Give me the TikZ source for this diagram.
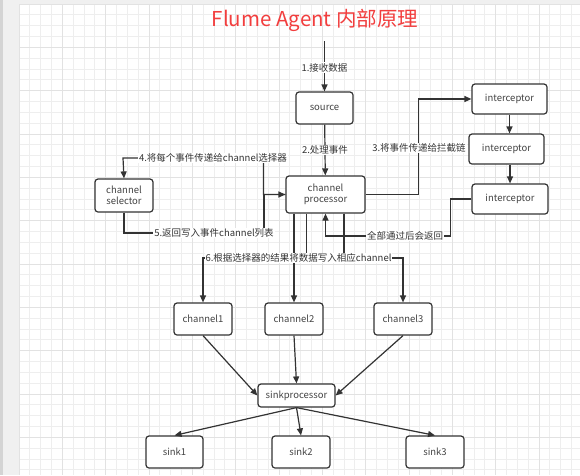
\documentclass[tikz,border=0pt]{standalone}
\usepackage{fontspec}
\setmainfont{Noto Sans CJK SC}
\usepackage{tikz}
\usetikzlibrary{arrows.meta,calc,positioning}
\definecolor{titlered}{RGB}{242,62,62}
\definecolor{ink}{RGB}{51,51,51}
\definecolor{boxtext}{RGB}{68,68,68}
\definecolor{gridminor}{RGB}{238,238,238}
\definecolor{gridmajor}{RGB}{226,226,226}
\definecolor{canvas}{RGB}{240,240,240}
\definecolor{rim}{RGB}{212,212,212}
\tikzset{
  blk/.style={draw=ink,line width=1.2pt,rounded corners=3pt,fill=white,text=boxtext,
    font=\fontsize{9.5}{11}\selectfont,align=center,inner sep=0pt},
  lbl/.style={fill=white,text=ink,font=\fontsize{9.5}{11}\selectfont,inner sep=1pt},
  arr/.style={color=ink,line width=1.2pt,-{Triangle[length=7pt,width=6pt]}}
}
\begin{document}
\begin{tikzpicture}[x=1pt,y=-1pt]
\useasboundingbox (0,0) rectangle (580,475);
\fill[canvas] (0,0) rectangle (580,475);
\fill[rim] (0,0) rectangle (3,475);
\fill[white] (19,4) rectangle (580,475);
\foreach \i in {0,...,52} \draw[gridminor,line width=0.8pt] ({19+10.833*\i},4) -- ({19+10.833*\i},475);
\foreach \j in {0,...,43} \draw[gridminor,line width=0.8pt] (19,{4+10.833*\j}) -- (580,{4+10.833*\j});
\foreach \i in {0,...,13} \draw[gridmajor,line width=0.8pt] ({19+43.333*\i},4) -- ({19+43.333*\i},475);
\foreach \j in {0,...,10} \draw[gridmajor,line width=0.8pt] (19,{4+43.333*\j}) -- (580,{4+43.333*\j});
\node[text=titlered,font=\fontsize{20.5}{24}\selectfont] (title) at (315,20) {Flume Agent 内部原理};
\node[blk,minimum width=57pt,minimum height=32pt] (source) at (324.5,108) {source};
\node[blk,minimum width=79pt,minimum height=37pt] (chproc) at (325.5,194.5) {channel\\processor};
\node[blk,minimum width=58pt,minimum height=33pt] (chsel) at (124,195.5) {channel\\selector};
\node[blk,minimum width=75pt,minimum height=30pt] (int1) at (509.5,99) {interceptor};
\node[blk,minimum width=75pt,minimum height=30pt] (int2) at (506.5,149) {interceptor};
\node[blk,minimum width=76pt,minimum height=30pt] (int3) at (510,199) {interceptor};
\node[blk,minimum width=58pt,minimum height=32pt] (ch1) at (203,319) {channel1};
\node[blk,minimum width=58pt,minimum height=32pt] (ch2) at (294,319) {channel2};
\node[blk,minimum width=58pt,minimum height=32pt] (ch3) at (403,319) {channel3};
\node[blk,minimum width=77pt,minimum height=23pt] (sinkp) at (296.5,395.5) {sinkprocessor};
\node[blk,minimum width=57pt,minimum height=32pt] (sink1) at (174.5,452) {sink1};
\node[blk,minimum width=58pt,minimum height=32pt] (sink2) at (301,452) {sink2};
\node[blk,minimum width=58pt,minimum height=32pt] (sink3) at (435,452) {sink3};
\coordinate (feed) at (324.5,41);
\coordinate (sel4) at (123,158);
\coordinate (ret5) at (264,233);
\coordinate (split) at (298.5,258);
\path[arr]
(feed) edge node[lbl,pos=0.53] {1.接收数据} (source)
(source) edge node[lbl,pos=0.5] {2.处理事件} (chproc)
(int1.south) edge (int1.south |- int2.north)
(int3.north |- int2.south) edge (int3.north)
(ch2.north |- chproc.south) edge (ch2.north)
(ch1.south) edge (sinkp.west)
(ch2.south) edge (sinkp.north)
(ch3.south) edge (sinkp.east)
(sinkp.south) edge (sink1.north)
(sinkp.south) edge (sink2.north)
(sinkp.south) edge (sink3.north);
\draw[arr] (chproc.east) -- ++(53,0) |- (int1.west);
\node[lbl] (l3) at (419,148) {3.将事件传递给拦截链};
\draw[arr] (int3.west) -| ++(-21,37) -| (chproc.south);
\node[lbl] (lall) at (405,236) {全部通过后会返回};
\draw[arr] (chproc.west) -- ++(-22,0) |- (sel4) -- (chsel.north);
\node[lbl] (l4) at (213,158) {4.将每个事件传递给channel选择器};
\draw[arr] (chsel.south) |- (ret5) |- (chproc.west);
\node[lbl] (l5) at (214,233) {5.返回写入事件channel列表};
\draw[arr] ([xshift=-19pt]chproc.south) -- ([xshift=-19pt]chproc.south |- split) -| (ch1.north);
\draw[arr] ([xshift=18.5pt]chproc.south) -- ([xshift=18.5pt]chproc.south |- split) -| (ch3.north);
\node[lbl] (l6) at (split) {6.根据选择器的结果将数据写入相应channel};
\end{tikzpicture}
\end{document}
